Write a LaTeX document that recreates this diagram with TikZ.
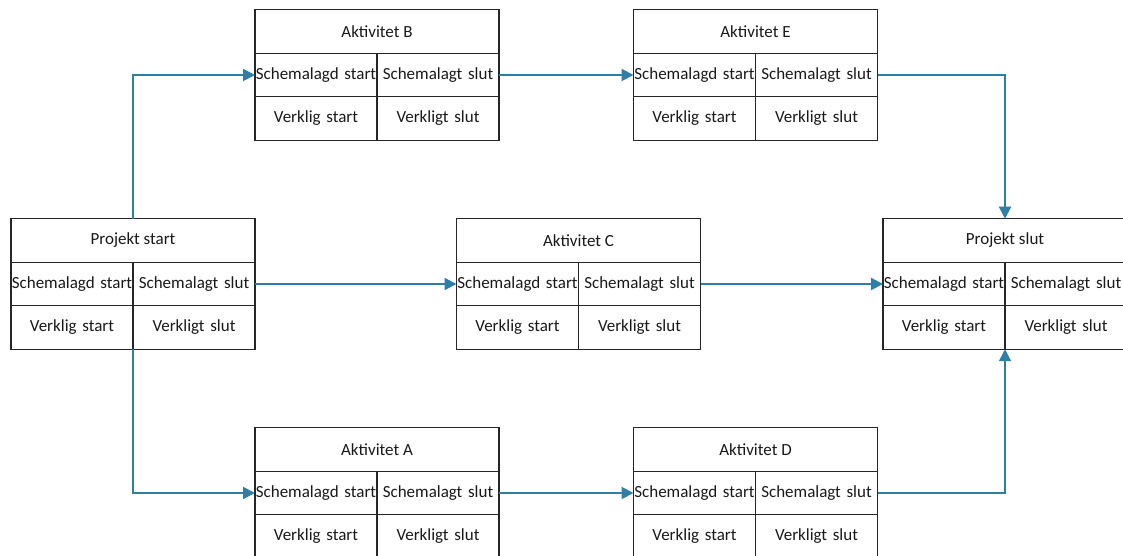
\documentclass[tikz,border=0pt]{standalone}
\usepackage{fontspec}
\setmainfont{Carlito}
\usepackage{xcolor}
\usepackage{tikz}
\usetikzlibrary{positioning,arrows.meta}

\definecolor{pilblue}{HTML}{2E7FA6}

\tikzset{
  titel/.style={draw=black!85, line width=1.2pt, outer sep=0pt, minimum width=244pt, minimum height=43.5pt, inner sep=0pt, text=black!90},
  cell/.style={draw=black!85, line width=1.2pt, outer sep=0pt, text width=122pt, align=center, minimum height=43.5pt, inner sep=0pt, text=black!90},
  pil/.style={pilblue, line width=2pt, -{Triangle[length=12pt,width=12pt]}}
}

\newcommand{\aktivitet}[3]{%
  \node[titel] (#1) at (#2) {#3};
  \node[cell, below right=0pt of #1.south west] (#1-ss) {Schemalagd start};
  \node[cell, below left=0pt of #1.south east] (#1-se) {Schemalagt slut};
  \node[cell, below=0pt of #1-ss] (#1-vs) {Verklig start};
  \node[cell, below=0pt of #1-se] (#1-ve) {Verkligt slut};
}

\begin{document}
\begin{tikzpicture}[x=1pt,y=1pt,font=\fontsize{17}{20}\selectfont]
\useasboundingbox (0,0) rectangle (1123,556);
\clip (0,0) rectangle (1123,556);

\aktivitet{start}{133,315.5}{Projekt start}
\aktivitet{B}{377,524.5}{Aktivitet B}
\aktivitet{E}{755.5,524.5}{Aktivitet E}
\aktivitet{C}{578.5,315.5}{Aktivitet C}
\aktivitet{slut}{1005,315.5}{Projekt slut}
\aktivitet{A}{377,106.5}{Aktivitet A}
\aktivitet{D}{755.5,106.5}{Aktivitet D}

\draw[pil] (start.north) |- (B-ss.west);
\draw[pil] (start-vs.south east) |- (A-ss.west);
\draw[pil] (start-se.east) -- (C-ss.west);
\draw[pil] (C-se.east) -- (slut-ss.west);
\draw[pil] (B-se.east) -- (E-ss.west);
\draw[pil] (E-se.east) -| (slut.north);
\draw[pil] (A-se.east) -- (D-ss.west);
\draw[pil] (D-se.east) -| (slut-vs.south east);

\end{tikzpicture}
\end{document}
